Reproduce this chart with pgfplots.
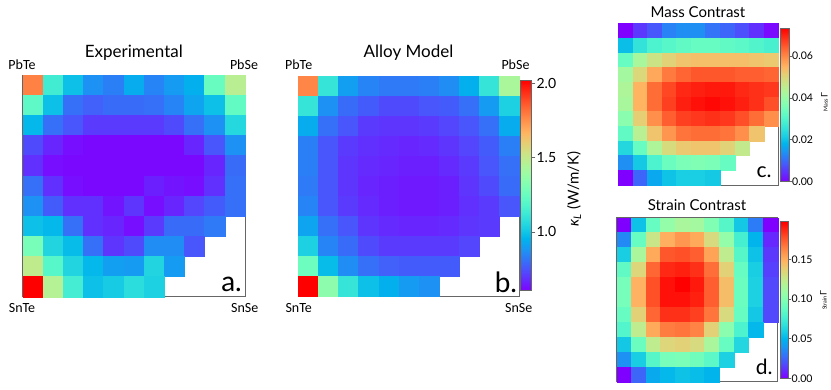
\documentclass[border=0pt]{standalone}
\usepackage{pgfplots}
\pgfplotsset{compat=1.18}
\usepackage{fontspec}
\setmainfont{Lato}
\newfontfamily\cornerfont{Carlito}
\pgfplotsset{
 colormap={rb}{rgb255(0cm)=(128,0,255) rgb255(1cm)=(102,40,254) rgb255(2cm)=(77,79,252) rgb255(3cm)=(51,116,248) rgb255(4cm)=(26,150,243) rgb255(5cm)=(0,180,236) rgb255(6cm)=(26,206,227) rgb255(7cm)=(51,227,218) rgb255(8cm)=(77,243,206) rgb255(9cm)=(102,252,194) rgb255(10cm)=(128,255,180) rgb255(11cm)=(153,252,166) rgb255(12cm)=(179,243,150) rgb255(13cm)=(204,227,133) rgb255(14cm)=(230,206,116) rgb255(15cm)=(255,180,98) rgb255(16cm)=(255,150,79) rgb255(17cm)=(255,116,59) rgb255(18cm)=(255,79,40) rgb255(19cm)=(255,40,20) rgb255(20cm)=(255,0,0)},
 hm/.style={scale only axis, anchor=south west, xmin=-0.5, xmax=10.5, ymin=-0.5, ymax=10.5,
   axis line style={draw=black!60, line width=0.8pt}, ticks=none, colormap name=rb, axis on top},
 cells/.style={scatter, only marks, mark=square*, point meta=explicit,
   scatter/use mapped color={draw=mapped color, fill=mapped color}},
 cbx/.style={scale only axis, anchor=south west, xmin=0, xmax=1, xtick=\empty, ytick pos=right,
   yticklabel pos=right, tick align=outside,
   tick style={draw=black!60, line width=0.8pt}, axis line style={draw=black!60, line width=0.8pt},
   colormap name=rb, axis on top},
 cbfill/.style={patch, shader=interp, point meta=y},
}
\begin{document}
\begin{tikzpicture}
\useasboundingbox (0,0) rectangle (831pt,390pt);
% ---------- a. Experimental
\begin{axis}[hm, at={(22.7pt,93.3pt)}, width=222.3pt, height=221.7pt, point meta min=0.605, point meta max=2.02]
\addplot[cells, mark size=10.08pt, mark options={xscale=1.003, line width=0.3pt}] table[row sep=\\, meta=v] {
x y v\\
0 10 1.78\\ 1 10 1.14\\ 2 10 0.99\\ 3 10 0.88\\ 4 10 0.84\\ 5 10 0.94\\ 6 10 0.85\\ 7 10 0.90\\ 8 10 0.95\\ 9 10 1.25\\ 10 10 1.47\\
0 9 1.22\\ 1 9 0.99\\ 2 9 0.81\\ 3 9 0.78\\ 4 9 0.80\\ 5 9 0.80\\ 6 9 0.81\\ 7 9 0.85\\ 8 9 0.92\\ 9 9 0.99\\ 10 9 1.23\\
0 8 0.97\\ 1 8 0.81\\ 2 8 0.76\\ 3 8 0.71\\ 4 8 0.71\\ 5 8 0.71\\ 6 8 0.71\\ 7 8 0.74\\ 8 8 0.81\\ 9 8 0.88\\ 10 8 1.06\\
0 7 0.74\\ 1 7 0.67\\ 2 7 0.63\\ 3 7 0.62\\ 4 7 0.62\\ 5 7 0.62\\ 6 7 0.62\\ 7 7 0.62\\ 8 7 0.67\\ 9 7 0.76\\ 10 7 0.88\\
0 6 0.69\\ 1 6 0.63\\ 2 6 0.62\\ 3 6 0.62\\ 4 6 0.62\\ 5 6 0.62\\ 6 6 0.62\\ 7 6 0.62\\ 8 6 0.62\\ 9 6 0.67\\ 10 6 0.80\\
0 5 0.81\\ 1 5 0.69\\ 2 5 0.63\\ 3 5 0.62\\ 4 5 0.62\\ 5 5 0.62\\ 6 5 0.66\\ 7 5 0.64\\ 8 5 0.63\\ 9 5 0.69\\ 10 5 0.81\\
0 4 0.88\\ 1 4 0.77\\ 2 4 0.69\\ 3 4 0.69\\ 4 4 0.64\\ 5 4 0.70\\ 6 4 0.63\\ 7 4 0.67\\ 8 4 0.73\\ 9 4 0.77\\ 10 4 0.81\\
0 3 0.99\\ 1 3 0.97\\ 2 3 0.81\\ 3 3 0.69\\ 4 3 0.67\\ 5 3 0.63\\ 6 3 0.71\\ 7 3 0.80\\ 8 3 0.80\\ 9 3 0.83\\
0 2 1.29\\ 1 2 1.05\\ 2 2 0.98\\ 3 2 0.81\\ 4 2 0.70\\ 5 2 0.74\\ 6 2 0.87\\ 7 2 0.87\\ 8 2 0.76\\
0 1 1.49\\ 1 1 1.20\\ 2 1 1.05\\ 3 1 0.97\\ 4 1 0.91\\ 5 1 0.90\\ 6 1 1.05\\ 7 1 0.90\\
0 0 2.02\\ 1 0 1.46\\ 2 0 1.15\\ 3 0 0.99\\ 4 0 1.02\\ 5 0 1.08\\ 6 0 1.04\\
};
\end{axis}
% ---------- b. Alloy Model
\begin{axis}[hm, at={(298.3pt,94pt)}, width=221pt, height=220pt, point meta min=0.605, point meta max=2.02]
\addplot[cells, mark size=10pt, mark options={xscale=1.0045, line width=0.3pt}] table[row sep=\\, meta=v] {
x y v\\
0 10 1.77\\ 1 10 1.11\\ 2 10 0.91\\ 3 10 0.85\\ 4 10 0.83\\ 5 10 0.83\\ 6 10 0.84\\ 7 10 0.87\\ 8 10 0.95\\ 9 10 1.11\\ 10 10 1.43\\
0 9 1.11\\ 1 9 0.88\\ 2 9 0.80\\ 3 9 0.77\\ 4 9 0.74\\ 5 9 0.74\\ 6 9 0.76\\ 7 9 0.77\\ 8 9 0.81\\ 9 9 0.90\\ 10 9 1.04\\
0 8 0.94\\ 1 8 0.81\\ 2 8 0.76\\ 3 8 0.71\\ 4 8 0.70\\ 5 8 0.70\\ 6 8 0.71\\ 7 8 0.73\\ 8 8 0.76\\ 9 8 0.81\\ 10 8 0.94\\
0 7 0.84\\ 1 7 0.76\\ 2 7 0.71\\ 3 7 0.69\\ 4 7 0.68\\ 5 7 0.67\\ 6 7 0.68\\ 7 7 0.70\\ 8 7 0.73\\ 9 7 0.77\\ 10 7 0.84\\
0 6 0.84\\ 1 6 0.76\\ 2 6 0.70\\ 3 6 0.68\\ 4 6 0.67\\ 5 6 0.66\\ 6 6 0.66\\ 7 6 0.68\\ 8 6 0.71\\ 9 6 0.76\\ 10 6 0.81\\
0 5 0.83\\ 1 5 0.76\\ 2 5 0.70\\ 3 5 0.67\\ 4 5 0.66\\ 5 5 0.65\\ 6 5 0.65\\ 7 5 0.66\\ 8 5 0.70\\ 9 5 0.74\\ 10 5 0.80\\
0 4 0.85\\ 1 4 0.76\\ 2 4 0.71\\ 3 4 0.68\\ 4 4 0.66\\ 5 4 0.65\\ 6 4 0.65\\ 7 4 0.66\\ 8 4 0.69\\ 9 4 0.71\\ 10 4 0.76\\
0 3 0.92\\ 1 3 0.81\\ 2 3 0.76\\ 3 3 0.70\\ 4 3 0.68\\ 5 3 0.67\\ 6 3 0.67\\ 7 3 0.68\\ 8 3 0.70\\ 9 3 0.71\\
0 2 1.04\\ 1 2 0.85\\ 2 2 0.80\\ 3 2 0.74\\ 4 2 0.71\\ 5 2 0.71\\ 6 2 0.71\\ 7 2 0.71\\ 8 2 0.73\\
0 1 1.26\\ 1 1 0.98\\ 2 1 0.87\\ 3 1 0.81\\ 4 1 0.78\\ 5 1 0.77\\ 6 1 0.77\\ 7 1 0.77\\
0 0 2.02\\ 1 0 1.35\\ 2 0 1.11\\ 3 0 0.99\\ 4 0 0.95\\ 5 0 0.90\\ 6 0 0.88\\
};
\end{axis}
% colorbar b
\begin{axis}[cbx, at={(520pt,99.3pt)}, width=11.4pt, height=210.4pt, ymin=0.605, ymax=2.02,
  point meta min=0.605, point meta max=2.02, ytick={1,1.5,2}, major tick length=4pt,
  yticklabel style={font=\fontsize{14}{16}\selectfont, inner xsep=1pt, /pgf/number format/.cd, fixed, fixed zerofill, precision=1, assume math mode=true}]
\addplot[cbfill] table[row sep=\\] {
x y\\
0 0.605\\ 1 0.605\\ 1 0.7465\\ 0 0.605\\ 1 0.7465\\ 0 0.7465\\
0 0.7465\\ 1 0.7465\\ 1 0.888\\ 0 0.7465\\ 1 0.888\\ 0 0.888\\
0 0.888\\ 1 0.888\\ 1 1.0295\\ 0 0.888\\ 1 1.0295\\ 0 1.0295\\
0 1.0295\\ 1 1.0295\\ 1 1.171\\ 0 1.0295\\ 1 1.171\\ 0 1.171\\
0 1.171\\ 1 1.171\\ 1 1.3125\\ 0 1.171\\ 1 1.3125\\ 0 1.3125\\
0 1.3125\\ 1 1.3125\\ 1 1.454\\ 0 1.3125\\ 1 1.454\\ 0 1.454\\
0 1.454\\ 1 1.454\\ 1 1.5955\\ 0 1.454\\ 1 1.5955\\ 0 1.5955\\
0 1.5955\\ 1 1.5955\\ 1 1.737\\ 0 1.5955\\ 1 1.737\\ 0 1.737\\
0 1.737\\ 1 1.737\\ 1 1.8785\\ 0 1.737\\ 1 1.8785\\ 0 1.8785\\
0 1.8785\\ 1 1.8785\\ 1 2.02\\ 0 1.8785\\ 1 2.02\\ 0 2.02\\
};
\end{axis}
% ---------- c. Mass Contrast
\begin{axis}[hm, at={(618.3pt,205pt)}, width=160pt, height=161.7pt, point meta min=0, point meta max=0.0733]
\addplot[cells, mark size=7.35pt, mark options={xscale=0.9895, line width=0.3pt}] table[row sep=\\, meta=v] {
x y v\\
0 10 0.0000\\ 1 10 0.0051\\ 2 10 0.0081\\ 3 10 0.0125\\ 4 10 0.0139\\ 5 10 0.0139\\ 6 10 0.0110\\ 7 10 0.0095\\ 8 10 0.0073\\ 9 10 0.0044\\ 10 10 0.0007\\
0 9 0.0198\\ 1 9 0.0257\\ 2 9 0.0293\\ 3 9 0.0308\\ 4 9 0.0323\\ 5 9 0.0330\\ 6 9 0.0330\\ 7 9 0.0323\\ 8 9 0.0315\\ 9 9 0.0301\\ 10 9 0.0286\\
0 8 0.0330\\ 1 8 0.0425\\ 2 8 0.0476\\ 3 8 0.0506\\ 4 8 0.0528\\ 5 8 0.0535\\ 6 8 0.0535\\ 7 8 0.0535\\ 8 8 0.0535\\ 9 8 0.0528\\ 10 8 0.0520\\
0 7 0.0418\\ 1 7 0.0498\\ 2 7 0.0564\\ 3 7 0.0616\\ 4 7 0.0638\\ 5 7 0.0652\\ 6 7 0.0652\\ 7 7 0.0652\\ 8 7 0.0645\\ 9 7 0.0645\\ 10 7 0.0638\\
0 6 0.0432\\ 1 6 0.0550\\ 2 6 0.0630\\ 3 6 0.0667\\ 4 6 0.0696\\ 5 6 0.0704\\ 6 6 0.0711\\ 7 6 0.0711\\ 8 6 0.0696\\ 9 6 0.0689\\ 10 6 0.0682\\
0 5 0.0425\\ 1 5 0.0550\\ 2 5 0.0630\\ 3 5 0.0674\\ 4 5 0.0704\\ 5 5 0.0718\\ 6 5 0.0726\\ 7 5 0.0718\\ 8 5 0.0704\\ 9 5 0.0689\\ 10 5 0.0660\\
0 4 0.0381\\ 1 4 0.0513\\ 2 4 0.0594\\ 3 4 0.0645\\ 4 4 0.0674\\ 5 4 0.0682\\ 6 4 0.0689\\ 7 4 0.0682\\ 8 4 0.0660\\ 9 4 0.0630\\ 10 4 0.0594\\
0 3 0.0323\\ 1 3 0.0447\\ 2 3 0.0528\\ 3 3 0.0586\\ 4 3 0.0623\\ 5 3 0.0630\\ 6 3 0.0630\\ 7 3 0.0623\\ 8 3 0.0594\\ 9 3 0.0528\\
0 2 0.0235\\ 1 2 0.0330\\ 2 2 0.0432\\ 3 2 0.0491\\ 4 2 0.0520\\ 5 2 0.0528\\ 6 2 0.0528\\ 7 2 0.0506\\ 8 2 0.0462\\
0 1 0.0139\\ 1 1 0.0213\\ 2 1 0.0293\\ 3 1 0.0337\\ 4 1 0.0359\\ 5 1 0.0367\\ 6 1 0.0359\\ 7 1 0.0330\\
0 0 0.0000\\ 1 0 0.0095\\ 2 0 0.0169\\ 3 0 0.0205\\ 4 0 0.0220\\ 5 0 0.0220\\ 6 0 0.0213\\
};
\end{axis}
% colorbar c
\begin{axis}[cbx, at={(780pt,208.3pt)}, width=9pt, height=153.4pt, ymin=0, ymax=0.0733,
  point meta min=0, point meta max=0.0733, ytick={0,0.02,0.04,0.06}, scaled y ticks=false, major tick length=2.5pt,
  yticklabel style={font=\fontsize{10.5}{12}\selectfont, inner xsep=0.5pt, /pgf/number format/.cd, fixed, fixed zerofill, precision=2, assume math mode=true}]
\addplot[cbfill] table[row sep=\\] {
x y\\
0 0\\ 1 0\\ 1 0.00733\\ 0 0\\ 1 0.00733\\ 0 0.00733\\
0 0.00733\\ 1 0.00733\\ 1 0.01466\\ 0 0.00733\\ 1 0.01466\\ 0 0.01466\\
0 0.01466\\ 1 0.01466\\ 1 0.02199\\ 0 0.01466\\ 1 0.02199\\ 0 0.02199\\
0 0.02199\\ 1 0.02199\\ 1 0.02932\\ 0 0.02199\\ 1 0.02932\\ 0 0.02932\\
0 0.02932\\ 1 0.02932\\ 1 0.03665\\ 0 0.02932\\ 1 0.03665\\ 0 0.03665\\
0 0.03665\\ 1 0.03665\\ 1 0.04398\\ 0 0.03665\\ 1 0.04398\\ 0 0.04398\\
0 0.04398\\ 1 0.04398\\ 1 0.05131\\ 0 0.04398\\ 1 0.05131\\ 0 0.05131\\
0 0.05131\\ 1 0.05131\\ 1 0.05864\\ 0 0.05131\\ 1 0.05864\\ 0 0.05864\\
0 0.05864\\ 1 0.05864\\ 1 0.06597\\ 0 0.05864\\ 1 0.06597\\ 0 0.06597\\
0 0.06597\\ 1 0.06597\\ 1 0.0733\\ 0 0.06597\\ 1 0.0733\\ 0 0.0733\\
};
\end{axis}
% ---------- d. Strain Contrast
\begin{axis}[hm, at={(616.7pt,8.3pt)}, width=161pt, height=164pt, point meta min=0, point meta max=0.198]
\addplot[cells, mark size=7.45pt, mark options={xscale=0.9817, line width=0.3pt}] table[row sep=\\, meta=v] {
x y v\\
0 10 0.000\\ 1 10 0.055\\ 2 10 0.089\\ 3 10 0.107\\ 4 10 0.115\\ 5 10 0.113\\ 6 10 0.099\\ 7 10 0.083\\ 8 10 0.057\\ 9 10 0.032\\ 10 10 0.000\\
0 9 0.036\\ 1 9 0.089\\ 2 9 0.127\\ 3 9 0.150\\ 4 9 0.158\\ 5 9 0.152\\ 6 9 0.133\\ 7 9 0.107\\ 8 9 0.077\\ 9 9 0.050\\ 10 9 0.010\\
0 8 0.059\\ 1 8 0.115\\ 2 8 0.152\\ 3 8 0.176\\ 4 8 0.178\\ 5 8 0.174\\ 6 8 0.154\\ 7 8 0.123\\ 8 8 0.083\\ 9 8 0.055\\ 10 8 0.014\\
0 7 0.087\\ 1 7 0.135\\ 2 7 0.172\\ 3 7 0.188\\ 4 7 0.190\\ 5 7 0.186\\ 6 7 0.170\\ 7 7 0.137\\ 8 7 0.089\\ 9 7 0.059\\ 10 7 0.016\\
0 6 0.095\\ 1 6 0.149\\ 2 6 0.178\\ 3 6 0.194\\ 4 6 0.198\\ 5 6 0.192\\ 6 6 0.174\\ 7 6 0.145\\ 8 6 0.091\\ 9 6 0.061\\ 10 6 0.018\\
0 5 0.095\\ 1 5 0.149\\ 2 5 0.178\\ 3 5 0.194\\ 4 5 0.194\\ 5 5 0.190\\ 6 5 0.174\\ 7 5 0.145\\ 8 5 0.091\\ 9 5 0.061\\ 10 5 0.018\\
0 4 0.089\\ 1 4 0.137\\ 2 4 0.172\\ 3 4 0.186\\ 4 4 0.186\\ 5 4 0.182\\ 6 4 0.168\\ 7 4 0.133\\ 8 4 0.089\\ 9 4 0.057\\ 10 4 0.018\\
0 3 0.081\\ 1 3 0.123\\ 2 3 0.152\\ 3 3 0.166\\ 4 3 0.168\\ 5 3 0.164\\ 6 3 0.137\\ 7 3 0.103\\ 8 3 0.079\\ 9 3 0.051\\
0 2 0.057\\ 1 2 0.091\\ 2 2 0.123\\ 3 2 0.135\\ 4 2 0.137\\ 5 2 0.133\\ 6 2 0.115\\ 7 2 0.089\\ 8 2 0.063\\
0 1 0.038\\ 1 1 0.059\\ 2 1 0.083\\ 3 1 0.095\\ 4 1 0.097\\ 5 1 0.093\\ 6 1 0.085\\ 7 1 0.061\\
0 0 0.000\\ 1 0 0.026\\ 2 0 0.046\\ 3 0 0.051\\ 4 0 0.055\\ 5 0 0.053\\ 6 0 0.050\\
};
\end{axis}
% colorbar d
\begin{axis}[cbx, at={(780pt,11.7pt)}, width=8.5pt, height=156.6pt, ymin=0, ymax=0.198,
  point meta min=0, point meta max=0.198, ytick={0,0.05,0.1,0.15}, scaled y ticks=false, major tick length=2.5pt,
  yticklabel style={font=\fontsize{10.5}{12}\selectfont, inner xsep=0.5pt, /pgf/number format/.cd, fixed, fixed zerofill, precision=2, assume math mode=true}]
\addplot[cbfill] table[row sep=\\] {
x y\\
0 0\\ 1 0\\ 1 0.0198\\ 0 0\\ 1 0.0198\\ 0 0.0198\\
0 0.0198\\ 1 0.0198\\ 1 0.0396\\ 0 0.0198\\ 1 0.0396\\ 0 0.0396\\
0 0.0396\\ 1 0.0396\\ 1 0.0594\\ 0 0.0396\\ 1 0.0594\\ 0 0.0594\\
0 0.0594\\ 1 0.0594\\ 1 0.0792\\ 0 0.0594\\ 1 0.0792\\ 0 0.0792\\
0 0.0792\\ 1 0.0792\\ 1 0.099\\ 0 0.0792\\ 1 0.099\\ 0 0.099\\
0 0.099\\ 1 0.099\\ 1 0.1188\\ 0 0.099\\ 1 0.1188\\ 0 0.1188\\
0 0.1188\\ 1 0.1188\\ 1 0.1386\\ 0 0.1188\\ 1 0.1386\\ 0 0.1386\\
0 0.1386\\ 1 0.1386\\ 1 0.1584\\ 0 0.1386\\ 1 0.1584\\ 0 0.1584\\
0 0.1584\\ 1 0.1584\\ 1 0.1782\\ 0 0.1584\\ 1 0.1782\\ 0 0.1782\\
0 0.1782\\ 1 0.1782\\ 1 0.198\\ 0 0.1782\\ 1 0.198\\ 0 0.198\\
};
\end{axis}
% ---------- texts
\node[font=\fontsize{17}{20}\selectfont] at (133.8pt,337.3pt) {Experimental};
\node[font=\fontsize{17}{20}\selectfont] at (408.5pt,337.3pt) {Alloy Model};
\node[font=\fontsize{15}{18}\selectfont] at (698pt,378pt) {Mass Contrast};
\node[font=\fontsize{15}{18}\selectfont] at (697pt,185pt) {Strain Contrast};
\begin{scope}[every node/.style={font=\cornerfont\fontsize{14}{16}\selectfont}]
\node at (22pt,325.5pt) {PbTe};
\node at (244pt,325.5pt) {PbSe};
\node at (22pt,82.3pt) {SnTe};
\node at (244.7pt,82.3pt) {SnSe};
\node at (298.7pt,325.5pt) {PbTe};
\node at (515.5pt,325.5pt) {PbSe};
\node at (298.7pt,82.3pt) {SnTe};
\node at (518.7pt,82.3pt) {SnSe};
\end{scope}
\node[anchor=base east, inner sep=0pt, font=\fontsize{28}{30}\selectfont] at (242pt,98pt) {a.};
\node[anchor=base east, inner sep=0pt, font=\fontsize{28}{30}\selectfont] at (517.3pt,97.7pt) {b.};
\node[anchor=base east, inner sep=0pt, font=\fontsize{21}{24}\selectfont] at (771.7pt,212.7pt) {c.};
\node[anchor=base east, inner sep=0pt, font=\fontsize{21}{24}\selectfont] at (772.7pt,15pt) {d.};
\node[rotate=90, font=\fontsize{15}{18}\selectfont] at (574pt,201pt) {\textit{κ}\textsubscript{\textit{L}} (W/m/K)};
\node[rotate=90, inner sep=0pt] at (824.5pt,288pt) {\fontsize{5.5}{6}\selectfont Mass\,\fontsize{9}{10}\selectfont Γ};
\node[rotate=90, inner sep=0pt] at (823.5pt,90pt) {\fontsize{5.5}{6}\selectfont Strain\,\fontsize{9}{10}\selectfont Γ};
\end{tikzpicture}
\end{document}
